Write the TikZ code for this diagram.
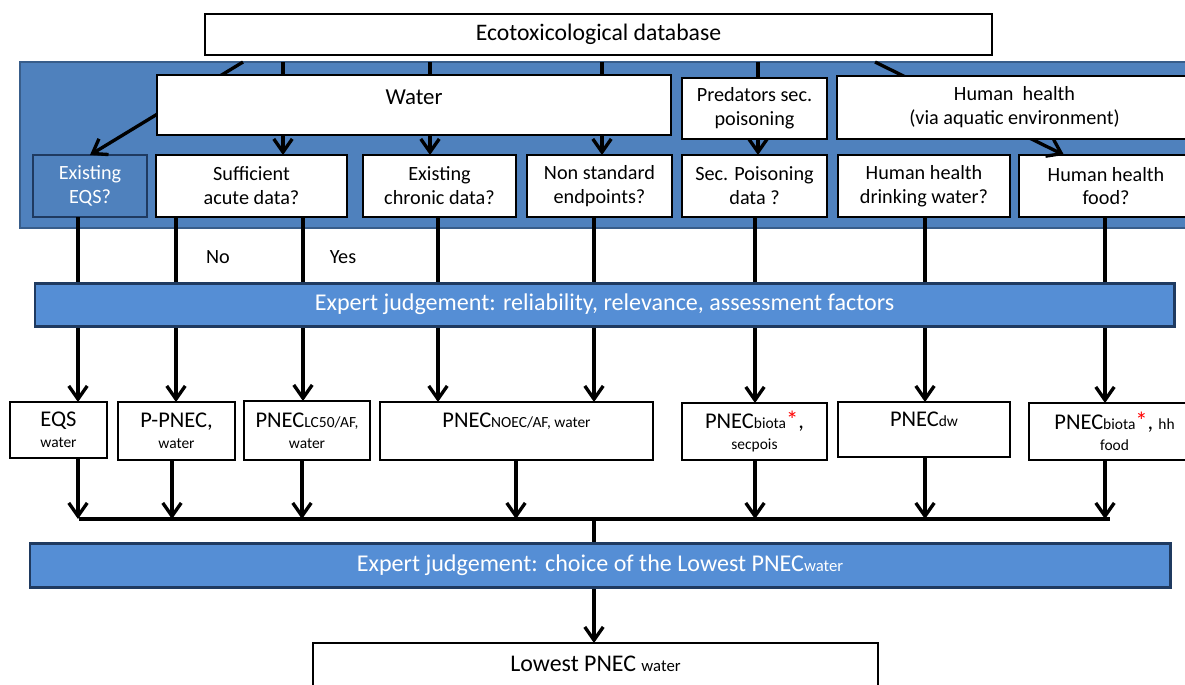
\documentclass[tikz,border=0pt]{standalone}
\usepackage{fontspec}
\setmainfont{Carlito}
\usetikzlibrary{arrows.meta}
\definecolor{panelblue}{HTML}{4F81BD}
\definecolor{panelborder}{HTML}{385D8A}
\definecolor{barblue}{HTML}{558ED5}
\definecolor{barborder}{HTML}{1F3A60}
\newcommand\pbox[7]{\node[#6, minimum width={(#4-#2)*0.02cm}, minimum height={(#5-#3)*0.02cm}] (#1) at ({(#2+#4)/2},{(#3+#5)/2}) {#7};}
\newcommand\fq{\fontsize{11.5}{13.6}\selectfont}
\newcommand\fbig{\fontsize{12.8}{12}\selectfont}
\newcommand\fsm{\fontsize{8.8}{12}\selectfont}
\newcommand\redast{{\color{red}\fontsize{14}{12}\selectfont *}}
\tikzset{
  whitebox/.style={draw=black, line width=0.8pt, fill=white, inner sep=1pt, outer sep=0pt, align=center, font=\fq},
  pnecbox/.style={whitebox, font=\fbig},
  panelst/.style={draw=panelborder, line width=1.5pt, fill=panelblue, inner sep=0pt, outer sep=0pt},
  eqsst/.style={draw=barborder, line width=1pt, fill=panelblue, inner sep=1pt, outer sep=0pt, align=center, font=\fq, text=white},
  barst/.style={draw=barborder, line width=1.7pt, fill=barblue, inner sep=0pt, outer sep=0pt, text=white, font=\fontsize{13.7}{15}\selectfont},
  arr/.style={line width=1.9pt, -{Straight Barb[length=7.5pt,width=10.5pt]}},
  ln/.style={line width=2.2pt},
  lbl/.style={font=\fq, inner sep=0pt}
}
\begin{document}
\begin{tikzpicture}[x=0.02cm,y=-0.02cm]
\useasboundingbox (0,0) rectangle (1185,684);
\clip (0,0) rectangle (1185,684);

% top database box
\pbox{db}{205}{14}{992}{55}{whitebox, font=\fontsize{13.5}{15}\selectfont}{Ecotoxicological database}

% blue panel
\pbox{panel}{20}{62}{1210}{228}{panelst}{}

% question boxes
\pbox{eqsq}{33}{155}{147}{217}{eqsst}{Existing\\EQS?}
\pbox{suff}{156}{155}{347}{217}{whitebox}{Sufficient\\acute data?}
\pbox{chron}{363}{155}{516}{217}{whitebox}{Existing\\chronic data?}
\pbox{nonstd}{527}{155}{672}{217}{whitebox}{Non standard\\endpoints?}
\pbox{secp}{682}{155}{827}{217}{whitebox}{Sec. Poisoning\\data ?}
\pbox{hdw}{838}{155}{1010}{217}{whitebox}{Human health\\drinking water?}
\pbox{hfood}{1019}{155}{1193}{217}{whitebox}{Human health\\food?}

% column coordinates
\foreach \n/\x in {dl/243,dr/875,fx/1064,a1/283,a2/430,a3/602,a4/758,
                   c1/78,c2/176,c3/303,c4/438,c5/594,c6/755,c7/925,c8/1105,
                   e1/78,e2/172,e3/302,e4/516,e5/755,e6/925,e7/1105,hl1/79,hl2/1110}
  \coordinate (\n) at (\x,0);

% arrows from the top of the panel
\draw[arr] (panel.north -| dl) -- (eqsq.north);
\draw[arr] (panel.north -| dr) -- (hfood.north -| fx);
\draw[arr] (panel.north -| a1) -- (suff.north -| a1);
\draw[arr] (panel.north -| a2) -- (chron.north -| a2);
\draw[arr] (panel.north -| a3) -- (nonstd.north -| a3);
\draw[arr] (panel.north -| a4) -- (secp.north -| a4);

% category boxes (drawn over the arrows)
\pbox{water}{157}{75}{671}{135}{whitebox, font=\fontsize{13}{15}\selectfont, text depth=0.32cm}{Water}
\pbox{pred}{682}{78}{827}{139}{whitebox}{Predators sec.\\poisoning}
\pbox{hum}{837}{76}{1192}{139}{whitebox}{Human\ \ health\\(via aquatic environment)}

% PNEC boxes
\pbox{eqsw}{10}{402}{107}{458}{pnecbox}{EQS\\{\fsm water}}
\pbox{ppnec}{118}{402}{235}{460}{pnecbox}{P-PNEC,\\{\fsm water}}
\pbox{lc50}{244}{401}{370}{460}{pnecbox}{PNEC{\fsm LC50/AF,}\\{\fsm water}}
\pbox{noec}{380}{402}{653}{460}{pnecbox}{PNEC{\fsm NOEC/AF, water}\\\phantom{x}}
\pbox{biota1}{682}{403}{827}{460}{pnecbox}{PNEC{\fsm biota}\redast,\\{\fsm secpois}}
\pbox{pdw}{838}{402}{1010}{457}{pnecbox}{PNEC{\fsm dw}\\\phantom{x}}
\pbox{biota2}{1029}{403}{1200}{460}{pnecbox}{PNEC{\fsm biota}\redast, {\fsm hh}\\{\fsm food}}

% arrows from question boxes through the first bar to PNEC boxes
\draw[arr] (eqsq.south -| c1) -- (eqsw.north -| c1);
\draw[arr] (suff.south -| c2) -- (ppnec.north -| c2);
\draw[arr] (suff.south -| c3) -- (lc50.north -| c3);
\draw[arr] (chron.south -| c4) -- (noec.north -| c4);
\draw[arr] (nonstd.south -| c5) -- (noec.north -| c5);
\draw[arr] (secp.south -| c6) -- (biota1.north -| c6);
\draw[arr] (hdw.south -| c7) -- (pdw.north -| c7);
\draw[arr] (hfood.south -| c8) -- (biota2.north -| c8);

\node[lbl] (no) at (218,257) {No};
\node[lbl] (yes) at (343,257) {Yes};

\pbox{bar1}{35}{283}{1174}{326}{barst}{Expert judgement: reliability, relevance, assessment factors}

% collecting line
\coordinate (hy) at (0,519);
\draw[ln] (hl1 |- hy) -- (hl2 |- hy);
\draw[arr] (eqsw.south -| e1) -- (hy -| e1);
\draw[arr] (ppnec.south -| e2) -- (hy -| e2);
\draw[arr] (lc50.south -| e3) -- (hy -| e3);
\draw[arr] (noec.south -| e4) -- (hy -| e4);
\draw[arr] (biota1.south -| e5) -- (hy -| e5);
\draw[arr] (pdw.south -| e6) -- (hy -| e6);
\draw[arr] (biota2.south -| e7) -- (hy -| e7);

% final part
\pbox{lowest}{313}{643}{878}{700}{whitebox, font=\fontsize{13.6}{15}\selectfont, text depth=0.3cm}{Lowest PNEC {\fontsize{9.5}{11}\selectfont water}}
\draw[arr] (hy -| c5) -- (lowest.north -| c5);
\pbox{bar2}{30}{543}{1170}{587}{barst}{Expert judgement: choice of the Lowest PNEC{\fontsize{9.5}{11}\selectfont water}}
\end{tikzpicture}
\end{document}
